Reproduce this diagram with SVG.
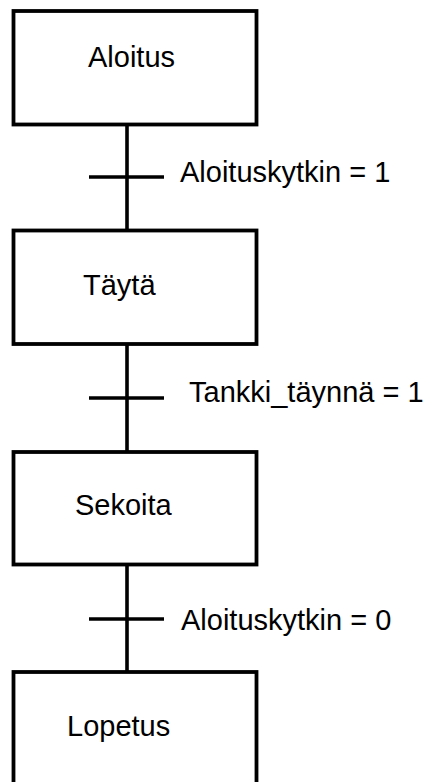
<svg xmlns="http://www.w3.org/2000/svg" width="431" height="782" viewBox="0 0 431 782">
  <style>
    .step rect { fill: #ffffff; stroke: #000000; stroke-width: 3.8; }
    .step text { font-family: "Liberation Sans", Arial, sans-serif; font-size: 29px; fill: #000000; }
    .link { stroke: #000000; stroke-width: 3.6; fill: none; }
    .cond { font-family: "Liberation Sans", Arial, sans-serif; font-size: 29px; fill: #000000; }
  </style>
  <rect width="431" height="782" fill="#ffffff"/>

  <!-- links between steps, with transition bars and conditions -->
  <g id="connectors">
    <line class="link" x1="127" y1="124.5" x2="127" y2="230.5"/>
    <line class="link" x1="89" y1="177" x2="164" y2="177"/>
    <text class="cond" x="180" y="182">Aloituskytkin = 1</text>

    <line class="link" x1="127" y1="344" x2="127" y2="452"/>
    <line class="link" x1="89" y1="398" x2="164" y2="398"/>
    <text class="cond" x="189" y="402">Tankki_täynnä = 1</text>

    <line class="link" x1="127" y1="564.5" x2="127" y2="672"/>
    <line class="link" x1="89" y1="619" x2="164" y2="619"/>
    <text class="cond" x="181" y="630">Aloituskytkin = 0</text>
  </g>

  <g id="step-aloitus" class="step">
    <rect x="13.5" y="11" width="243" height="113.5"/>
    <text x="88" y="67">Aloitus</text>
  </g>

  <g id="step-tayta" class="step">
    <rect x="13.5" y="230.5" width="243" height="113.5"/>
    <text x="83" y="295">Täytä</text>
  </g>

  <g id="step-sekoita" class="step">
    <rect x="13.5" y="452" width="243" height="112.5"/>
    <text x="75" y="515">Sekoita</text>
  </g>

  <g id="step-lopetus" class="step">
    <rect x="13.5" y="672" width="243" height="130"/>
    <text x="67" y="736">Lopetus</text>
  </g>
</svg>
